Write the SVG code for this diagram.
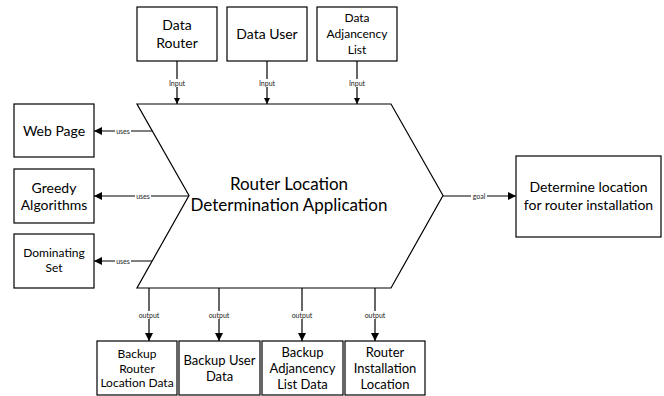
<svg xmlns="http://www.w3.org/2000/svg" width="664" height="396" viewBox="0 0 664 396">
<defs>
<style>
.box{fill:#fff;stroke:#000;stroke-width:1.2}
.t{font-family:Lato,"Open Sans","Liberation Sans",sans-serif;fill:#000;text-anchor:middle}
.lbl{font-family:Lato,"Open Sans","Liberation Sans",sans-serif;font-size:7px;fill:#222;text-anchor:middle}
.lblbg{fill:#fff}
.c{stroke:#000;stroke-width:1.2;fill:none}
</style>
<marker id="ah" viewBox="0 0 10 10" refX="10" refY="5" markerWidth="8" markerHeight="8" markerUnits="userSpaceOnUse" orient="auto">
<path d="M0,0 L10,5 L0,10 z" fill="#000"/>
</marker>
<marker id="ahs" viewBox="0 0 10 10" refX="10" refY="5" markerWidth="6" markerHeight="6" markerUnits="userSpaceOnUse" orient="auto">
<path d="M0,0 L10,5 L0,10 z" fill="#000"/>
</marker>
</defs>
<g id="connectors">
<line class="c" x1="177" y1="61" x2="177" y2="104" marker-end="url(#ahs)"/>
<line class="c" x1="267" y1="61" x2="267" y2="104" marker-end="url(#ahs)"/>
<line class="c" x1="357" y1="61" x2="357" y2="104" marker-end="url(#ahs)"/>
<line class="c" x1="152" y1="131" x2="94" y2="131" marker-end="url(#ah)"/>
<line class="c" x1="189" y1="196" x2="94" y2="196" marker-end="url(#ah)"/>
<line class="c" x1="152" y1="261" x2="94" y2="261" marker-end="url(#ah)"/>
<line class="c" x1="443" y1="196" x2="516" y2="196" marker-end="url(#ah)"/>
<line class="c" x1="149" y1="288" x2="149" y2="341" marker-end="url(#ah)"/>
<line class="c" x1="219" y1="288" x2="219" y2="341" marker-end="url(#ah)"/>
<line class="c" x1="302" y1="288" x2="302" y2="341" marker-end="url(#ah)"/>
<line class="c" x1="375" y1="288" x2="375" y2="341" marker-end="url(#ah)"/>
<rect class="lblbg" x="168" y="79" width="18" height="8"/>
<text class="lbl" x="177" y="85.5">Input</text>
<rect class="lblbg" x="258" y="79" width="18" height="8"/>
<text class="lbl" x="267" y="85.5">Input</text>
<rect class="lblbg" x="348" y="79" width="18" height="8"/>
<text class="lbl" x="357" y="85.5">Input</text>
<rect class="lblbg" x="115" y="127" width="16" height="8"/>
<text class="lbl" x="123" y="133.5">uses</text>
<rect class="lblbg" x="135" y="192" width="16" height="8"/>
<text class="lbl" x="143" y="198.5">uses</text>
<rect class="lblbg" x="115" y="257" width="16" height="8"/>
<text class="lbl" x="123" y="263.5">uses</text>
<rect class="lblbg" x="471" y="192" width="16" height="8"/>
<text class="lbl" x="479" y="198.5">goal</text>
<rect class="lblbg" x="138" y="311" width="22" height="8"/>
<text class="lbl" x="149" y="317.5">output</text>
<rect class="lblbg" x="208" y="311" width="22" height="8"/>
<text class="lbl" x="219" y="317.5">output</text>
<rect class="lblbg" x="291" y="311" width="22" height="8"/>
<text class="lbl" x="302" y="317.5">output</text>
<rect class="lblbg" x="364" y="311" width="22" height="8"/>
<text class="lbl" x="375" y="317.5">output</text>
</g>
<g id="app">
<path class="box" d="M137,104 L391,104 L443,195.5 L391,288 L137,288 L189,195.5 Z"/>
<text class="t" x="289" y="190" font-size="17">Router Location</text>
<text class="t" x="289" y="211" font-size="17">Determination Application</text>
</g>
<g id="data-router">
<rect class="box" x="137" y="7" width="80" height="54"/>
<text class="t" x="177" y="30" font-size="14">Data</text>
<text class="t" x="177" y="48" font-size="14">Router</text>
</g>
<g id="data-user">
<rect class="box" x="227" y="7" width="80" height="54"/>
<text class="t" x="267" y="39" font-size="14">Data User</text>
</g>
<g id="data-adjacency">
<rect class="box" x="317" y="7" width="80" height="54"/>
<text class="t" x="357" y="22" font-size="12">Data</text>
<text class="t" x="357" y="38" font-size="12">Adjancency</text>
<text class="t" x="357" y="54" font-size="12">List</text>
</g>
<g id="web-page">
<rect class="box" x="14" y="104" width="80" height="53"/>
<text class="t" x="54" y="136" font-size="14">Web Page</text>
</g>
<g id="greedy">
<rect class="box" x="14" y="169" width="80" height="54"/>
<text class="t" x="54" y="193" font-size="14">Greedy</text>
<text class="t" x="54" y="210" font-size="14">Algorithms</text>
</g>
<g id="dominating">
<rect class="box" x="14" y="234" width="80" height="54"/>
<text class="t" x="54" y="257" font-size="12">Dominating</text>
<text class="t" x="54" y="272" font-size="12">Set</text>
</g>
<g id="goal-box">
<rect class="box" x="516" y="156" width="145" height="81"/>
<text class="t" x="588.5" y="192" font-size="14">Determine location</text>
<text class="t" x="588.5" y="210" font-size="14">for router installation</text>
</g>
<g id="backup-router">
<rect class="box" x="97" y="341" width="80" height="54"/>
<text class="t" x="137" y="358" font-size="12">Backup</text>
<text class="t" x="137" y="373" font-size="12">Router</text>
<text class="t" x="137" y="387" font-size="12">Location Data</text>
</g>
<g id="backup-user">
<rect class="box" x="179" y="341" width="81" height="54"/>
<text class="t" x="219.5" y="365" font-size="13">Backup User</text>
<text class="t" x="219.5" y="381" font-size="13">Data</text>
</g>
<g id="backup-adjacency">
<rect class="box" x="262" y="341" width="81" height="54"/>
<text class="t" x="302.5" y="356.5" font-size="13">Backup</text>
<text class="t" x="302.5" y="372.5" font-size="13">Adjancency</text>
<text class="t" x="302.5" y="388.5" font-size="13">List Data</text>
</g>
<g id="router-installation">
<rect class="box" x="345" y="341" width="80" height="54"/>
<text class="t" x="385" y="356.5" font-size="13">Router</text>
<text class="t" x="385" y="372.5" font-size="13">Installation</text>
<text class="t" x="385" y="388.5" font-size="13">Location</text>
</g>
</svg>
